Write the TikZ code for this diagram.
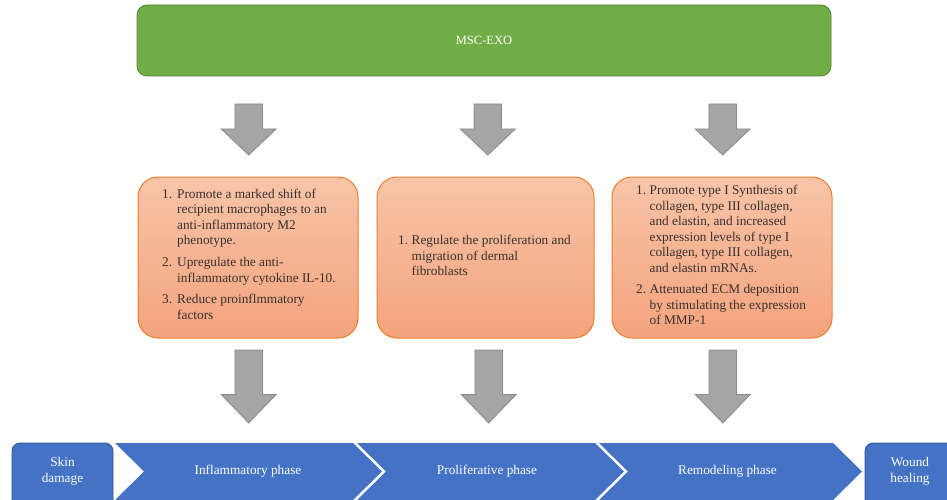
\documentclass[tikz,border=0pt]{standalone}
\usepackage{fontspec}
\setmainfont{Liberation Serif}
\definecolor{mgreen}{HTML}{70AD47}
\definecolor{mgreenD}{HTML}{548235}
\definecolor{otop}{HTML}{F8C4A8}
\definecolor{obot}{HTML}{F4A37C}
\definecolor{oline}{HTML}{ED7D31}
\definecolor{mblue}{HTML}{4472C4}
\definecolor{mblueD}{HTML}{2F528F}
\definecolor{agray}{HTML}{A5A5A5}
\definecolor{agrayD}{HTML}{8A8A8A}
\definecolor{txt}{HTML}{363030}
\newcommand\blockarrow[4]{%
  \draw[garrow] (#1-13.75,#2) -- (#1+13.75,#2) -- (#1+13.75,#3) -- (#1+27.5,#3)
    -- (#1,#4) -- (#1-27.5,#3) -- (#1-13.75,#3) -- cycle;}
\tikzset{
 greenbox/.style={draw=mgreenD, fill=mgreen, rounded corners=10pt, line width=0.8pt,
   minimum width=694pt, minimum height=71pt, text=white, font=\fontsize{12.5}{15}\selectfont},
 orangebox/.style={draw=oline, line width=1pt, top color=otop, bottom color=obot,
   rounded corners=20pt, minimum height=161pt},
 listtext/.style={inner sep=0pt, anchor=base west, text=txt, font=\fontsize{13.3}{15.5}\selectfont},
 garrow/.style={fill=agray, draw=agrayD, line width=0.8pt},
 chev/.style={fill=mblue},
 endbox/.style={fill=mblue, draw=mblueD, line width=0.8pt, rounded corners=8pt},
 phasetext/.style={text=white, font=\fontsize{13.3}{16.5}\selectfont, align=center, inner sep=0pt},
}
\begin{document}
\begin{tikzpicture}[x=1pt,y=-1pt]
\useasboundingbox (0,0) rectangle (947,500);
\clip (0,0) rectangle (947,500);
% top box
\node[greenbox] (exo) at (484,40.5) {MSC-EXO};
% top arrows
\blockarrow{248.7}{104}{129}{155}
\blockarrow{487.8}{104}{129}{155}
\blockarrow{722.7}{104}{129}{155}
% orange boxes
\node[orangebox, minimum width=220pt] (b1) at (248,257.5) {};
\node[orangebox, minimum width=217pt] (b2) at (485.5,257.5) {};
\node[orangebox, minimum width=220pt] (b3) at (722,257.5) {};
\node[listtext] (t1) at (162,198) {\begin{tabular}[t]{@{}r@{\hspace{5pt}}l@{}}
1. & Promote a marked shift of\\
 & recipient macrophages to an\\
 & anti-inflammatory M2\\
 & phenotype.\\[6.5pt]
2. & Upregulate the anti-\\
 & inflammatory cytokine IL-10.\\[6pt]
3. & Reduce proinflmmatory\\
 & factors
\end{tabular}};
\node[listtext] (t2) at (398,244.7) {\begin{tabular}[t]{@{}r@{\hspace{3.5pt}}l@{}}
1. & Regulate the proliferation and\\
 & migration of dermal\\
 & fibroblasts
\end{tabular}};
\node[listtext] (t3) at (636,194.7) {\begin{tabular}[t]{@{}r@{\hspace{3.5pt}}l@{}}
1. & Promote type I Synthesis of\\
 & collagen, type III collagen,\\
 & and elastin, and increased\\
 & expression levels of type I\\
 & collagen, type III collagen,\\
 & and elastin mRNAs.\\[6pt]
2. & Attenuated ECM deposition\\
 & by stimulating the expression\\
 & of MMP-1
\end{tabular}};
% bottom arrows
\blockarrow{248.7}{350}{394.5}{423}
\blockarrow{488.7}{350}{394.5}{423}
\blockarrow{722.8}{350}{394.5}{423}
% phase strip
\draw[endbox] (12,443) rectangle (113,512);
\draw[endbox] (865,443) rectangle (960,512);
\fill[chev] (115,443) -- (353,443) -- (382,471.5) -- (353,500) -- (115,500) -- (144,471.5) -- cycle;
\fill[chev] (357,443) -- (595,443) -- (624,471.5) -- (595,500) -- (357,500) -- (386,471.5) -- cycle;
\fill[chev] (599,443) -- (833,443) -- (862,471.5) -- (833,500) -- (599,500) -- (628,471.5) -- cycle;
\node[phasetext] (skin) at (62.5,471.5) {Skin\\damage};
\node[phasetext] (infl) at (248,471.7) {Inflammatory phase};
\node[phasetext] (prol) at (487,471.7) {Proliferative phase};
\node[phasetext] (remo) at (727.5,471.7) {Remodeling phase};
\node[phasetext] (wound) at (910,471.5) {Wound\\healing};
\end{tikzpicture}
\end{document}
